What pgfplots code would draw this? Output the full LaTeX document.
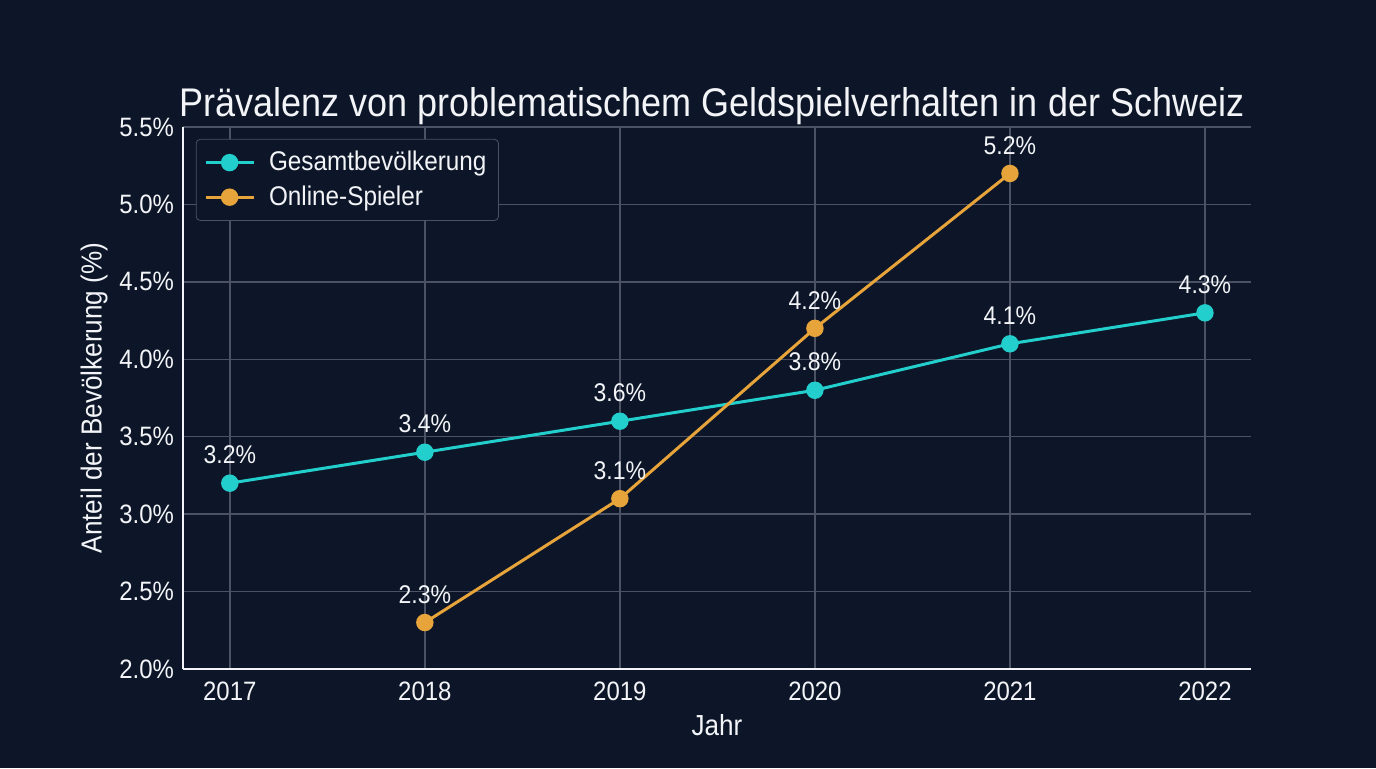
\documentclass[border=0pt]{standalone}
\usepackage{pgfplots}
\pgfplotsset{compat=1.18}
\usepackage{fontspec}
\setmainfont[FakeStretch=0.9]{Liberation Sans}
\definecolor{bg}{HTML}{0D1628}
\definecolor{gridc}{HTML}{4A5263}
\definecolor{teal}{HTML}{22CFCC}
\definecolor{amber}{HTML}{E6A43A}
\definecolor{txt}{HTML}{F2F4F7}
\begin{document}
\begin{tikzpicture}[x=1pt,y=1pt]
\fill[bg] (0,0) rectangle (688,384);
\useasboundingbox (0,0) rectangle (688,384);
\node[text=txt,font=\fontsize{20}{24}\selectfont,anchor=base] at (356,326) {Prävalenz von problematischem Geldspielverhalten in der Schweiz};
\begin{axis}[
  at={(91.5pt,49.5pt)}, anchor=south west,
  scale only axis, width=534pt, height=271pt,
  xmin=2016.76, xmax=2022.236,
  ymin=2.0, ymax=5.5,
  xtick={2017,2018,2019,2020,2021,2022},
  xticklabels={2017,2018,2019,2020,2021,2022},
  ytick={2.0,2.5,3.0,3.5,4.0,4.5,5.0,5.5},
  yticklabels={2.0\%,2.5\%,3.0\%,3.5\%,4.0\%,4.5\%,5.0\%,5.5\%},
  axis lines*=left,
  axis line style={txt, line width=0.9pt, -},
  tick style={draw=none},
  grid=major,
  major grid style={gridc, line width=0.7pt},
  ticklabel style={text=txt, font=\fontsize{13.3}{15}\selectfont},
  xticklabel style={yshift=-3pt},
  yticklabel style={xshift=-1pt},
  xlabel={Jahr}, ylabel={Anteil der Bevölkerung (\%)},
  label style={text=txt, font=\fontsize{14.5}{17}\selectfont},
  xlabel style={yshift=0pt},
  ylabel style={yshift=-1pt},
  legend style={at={(0.012,0.978)}, anchor=north west, fill=bg, draw=gridc,
    rounded corners=2pt, text=txt, font=\fontsize{13.5}{15}\selectfont,
    row sep=2pt, inner sep=4pt},
  legend image code/.code={%
    \draw[mark repeat=2,mark phase=2] plot coordinates {(0cm,0cm) (0.42cm,0cm) (0.84cm,0cm)};
    \path (0.84cm+5pt,0cm);},
  legend cell align=left,
  nodes near coords,
  every node near coord/.append style={text=txt, font=\fontsize{12.8}{14}\selectfont, yshift=5.5pt},
  point meta=explicit symbolic,
]
\addplot[teal, line width=1.5pt, mark=*, mark size=3.6pt, mark options={fill=teal}]
  table[meta=lab] {
x y lab
2017 3.2 3.2\%
2018 3.4 3.4\%
2019 3.6 3.6\%
2020 3.8 3.8\%
2021 4.1 4.1\%
2022 4.3 4.3\%
};
\addlegendentry{Gesamtbevölkerung}
\addplot[amber, line width=1.5pt, mark=*, mark size=3.6pt, mark options={fill=amber}]
  table[meta=lab] {
x y lab
2018 2.3 2.3\%
2019 3.1 3.1\%
2020 4.2 4.2\%
2021 5.2 5.2\%
};
\addlegendentry{Online-Spieler}
\end{axis}
\end{tikzpicture}
\end{document}
